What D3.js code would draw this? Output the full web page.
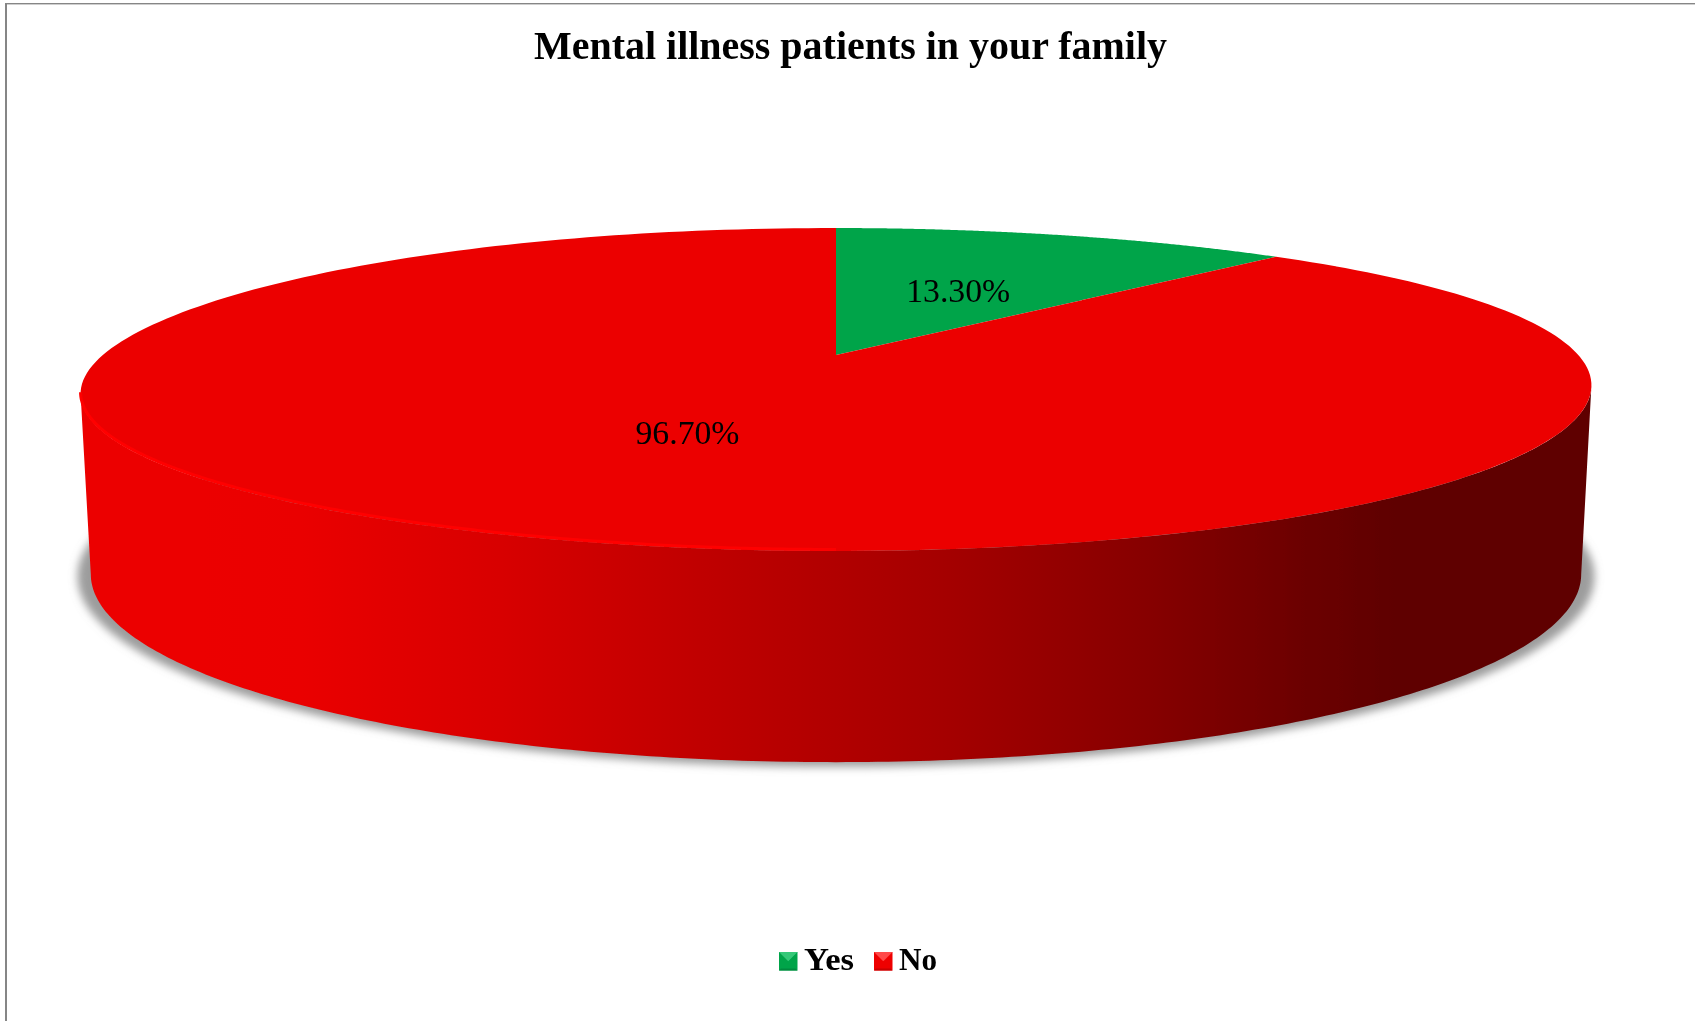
<!DOCTYPE html>
<html><head><meta charset="utf-8">
<script src="https://cdn.jsdelivr.net/npm/d3@7"></script>
<style>html,body{margin:0;padding:0;background:#fff}svg{display:block}text{font-family:"Liberation Serif",serif;fill:#000}</style>
</head><body>
<svg id="c" width="1695" height="1021"></svg>
<script>
const title = "Mental illness patients in your family";
const categories = ["Yes", "No"];
const values = [13.3, 96.7];
const valueLabels = ["13.30%", "96.70%"];
const sliceColors = ["#00a44a", "#ec0000"];
const legendColors = [
  {base:"#00a44a", light:"#35c878", dark:"#008a3e"},
  {base:"#ee0000", light:"#ff4a4a", dark:"#c80000"}
];

const root = d3.select("#c");
const defs = root.append("defs");

// perspective ellipse model
const topDisc = {cx:836, cy:355, R:738, H:154.1, k:0.2136, tilt:4.5};
const baseDisc = {cx:836, cy:534, R:728, H:179.4, k:0.2136, tilt:0};
const shadowDisc = {cx:836, cy:536, R:741, H:181.5, k:0.2136, tilt:0};
const project = (d, a, r=1) => {
  const w = 1 + d.k * r * Math.cos(a);
  const s = Math.sin(a);
  return [d.cx + d.R * r * s / w, d.cy - d.H * r * Math.cos(a) / w - d.tilt * r * s * s * s];
};
const arcPts = (d, a0, a1) => d3.range(0, 241).map(i => project(d, a0 + (a1 - a0) * i / 240));
const line = d3.line();

const pie = d3.pie().sort(null).value(v => v)(values);
const aLeft = Math.PI + Math.acos(0.2136), aRight = Math.PI - Math.acos(0.2136);

// frame
root.append("rect").attr("x",5).attr("y",3).attr("width",2).attr("height",1018).attr("fill","#868686");
root.append("rect").attr("x",5).attr("y",3).attr("width",1690).attr("height",1.4).attr("fill","#868686");

const soft = defs.append("filter").attr("id","soft").attr("filterUnits","userSpaceOnUse")
  .attr("x",0).attr("y",0).attr("width",1695).attr("height",1021);
soft.append("feGaussianBlur").attr("stdDeviation",0.55);
const svg = root.append("g").attr("filter","url(#soft)");

// shadow
const blur = defs.append("filter").attr("id","blur").attr("x","-5%").attr("y","-10%").attr("width","110%").attr("height","120%");
blur.append("feGaussianBlur").attr("stdDeviation",4);
svg.append("path").attr("d", line(arcPts(shadowDisc,0,2*Math.PI))+"Z").attr("fill","#9c9c9c").attr("filter","url(#blur)");

// side wall
const sideGrad = defs.append("linearGradient").attr("id","side").attr("gradientUnits","userSpaceOnUse")
  .attr("x1",80).attr("x2",1591).attr("y1",0).attr("y2",0);
[[200,"#ec0000"],[300,"#ea0000"],[500,"#d80000"],[700,"#c00000"],[950,"#a40000"],[1150,"#860000"],[1300,"#6c0000"],[1395,"#5f0000"],[1591,"#5f0000"]]
  .forEach(([x,c]) => sideGrad.append("stop").attr("offset",(x-80)/1511).attr("stop-color",c));
const sidePts = arcPts(topDisc, aRight, aLeft).concat(arcPts(baseDisc, aLeft, aRight));
svg.append("path").attr("d", line(sidePts)+"Z").attr("fill","url(#side)");

// top slices
const sliceG = svg.append("g");
pie.forEach((p,i) => {
  const pts = [[topDisc.cx, topDisc.cy]].concat(arcPts(topDisc, p.startAngle, p.endAngle));
  sliceG.append("path").attr("d", line(pts)+"Z").attr("fill", sliceColors[i]);
});

// bright rim on the front-left edge of the top
const rimGrad = defs.append("linearGradient").attr("id","rim").attr("gradientUnits","userSpaceOnUse")
  .attr("x1",80).attr("x2",1100).attr("y1",0).attr("y2",0);
rimGrad.append("stop").attr("offset",0).attr("stop-color","#ff0000");
rimGrad.append("stop").attr("offset",0.7).attr("stop-color","#ff0000");
rimGrad.append("stop").attr("offset",1).attr("stop-color","#ff0000").attr("stop-opacity",0);
const rimPts = arcPts(topDisc, aLeft, Math.PI).map(([x,y]) => [x,y-1.5]);
svg.append("path").attr("d", line(rimPts)).attr("fill","none").attr("stroke","url(#rim)").attr("stroke-width",3);

// data labels
pie.forEach((p,i) => {
  const [x,y] = project({...topDisc,tilt:0}, (p.startAngle+p.endAngle)/2, 0.49);
  svg.append("text").attr("x",x).attr("y",y+11).attr("text-anchor","middle").attr("font-size",33)
    .attr("textLength",104).attr("lengthAdjust","spacingAndGlyphs").text(valueLabels[i]);
});

// title
svg.append("text").attr("x",850.5).attr("y",59).attr("text-anchor","middle").attr("font-size",40).attr("font-weight","bold")
  .attr("textLength",633).attr("lengthAdjust","spacingAndGlyphs").text(title);

// legend
const legendX = d3.scaleOrdinal().domain(categories).range([779, 874]);
const labelW = d3.scaleOrdinal().domain(categories).range([50, 38]);
const S = 18.5;
categories.forEach((c,i) => {
  const g = svg.append("g").attr("transform",`translate(${legendX(c)},952)`);
  const col = legendColors[i], b = 4;
  g.append("rect").attr("width",S).attr("height",S).attr("fill",col.base);
  g.append("path").attr("d",line([[0,0],[S,0],[S-b,b],[S/2,S*0.5],[b,b]])+"Z").attr("fill",col.light);
  g.append("path").attr("d",line([[0,S],[S,S],[S-b/2,S-b/2],[b/2,S-b/2]])+"Z").attr("fill",col.dark);
  svg.append("text").attr("x",legendX(c)+25).attr("y",970).attr("font-size",32).attr("font-weight","bold")
    .attr("textLength",labelW(c)).attr("lengthAdjust","spacingAndGlyphs").text(c);
});
</script>
</body></html>
